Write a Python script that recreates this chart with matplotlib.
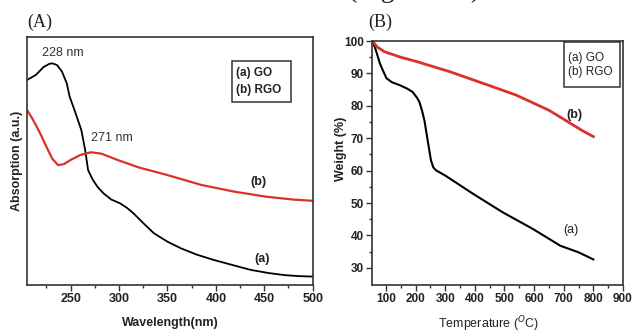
import numpy as np
import matplotlib.pyplot as plt
from matplotlib.patches import Rectangle

# (A) UV-vis absorption
wl_go = [205, 214, 222, 228, 231, 236, 241, 246, 249, 254, 261, 265, 268, 273,
         278, 284, 292, 301, 308, 315, 325, 336, 350, 364, 380, 398, 416, 436,
         455, 471, 485, 500]
abs_go = [0.828, 0.848, 0.880, 0.893, 0.895, 0.888, 0.862, 0.814, 0.760, 0.706,
          0.626, 0.545, 0.464, 0.424, 0.395, 0.370, 0.345, 0.330, 0.312, 0.289,
          0.250, 0.209, 0.175, 0.148, 0.123, 0.101, 0.082, 0.061, 0.048, 0.040,
          0.036, 0.034]
wl_rgo = [205, 210, 215, 220, 225, 231, 237, 243, 250, 260, 271, 282, 297, 320,
          350, 385, 419, 453, 480, 500]
abs_rgo = [0.706, 0.675, 0.639, 0.600, 0.558, 0.510, 0.484, 0.488, 0.505, 0.525,
           0.536, 0.530, 0.507, 0.475, 0.444, 0.404, 0.377, 0.356, 0.345, 0.340]

# (B) TGA
t_go = [55, 65, 80, 92, 102, 120, 146, 170, 190, 205, 213, 222, 230, 241, 252,
        260, 269, 300, 395, 495, 596, 689, 750, 800]
w_go = [99.8, 97.5, 93.0, 90.5, 88.5, 87.3, 86.4, 85.4, 84.3, 82.5, 81.2, 78.5,
        75.5, 69.3, 63.2, 61.0, 60.1, 58.5, 52.8, 47.1, 42.0, 36.8, 34.8, 32.6]
t_rgo = [55, 70, 95, 150, 206, 317, 429, 540, 651, 762, 800]
w_rgo = [100.0, 98.2, 96.7, 95.0, 93.6, 90.5, 86.9, 83.3, 78.6, 72.4, 70.5]

red = '#d8322b'
frame = '#333333'
sans = ['Liberation Sans', 'DejaVu Sans']
narrow = ['Liberation Sans Narrow', 'Liberation Sans', 'DejaVu Sans']
serif = ['Liberation Serif', 'DejaVu Serif']

fig = plt.figure(figsize=(6.36, 3.33), dpi=100)
fig.patch.set_facecolor('white')

# clipped line of body text at the very top
fig.text(487/636, 1.008, '(Figure 5A).', ha='right', va='baseline',
         fontsize=20, family=serif, color='#222222')

# ---- panel A ----
ax1 = fig.add_axes([0.0429, 0.1441, 0.4487, 0.7438])
ax1.plot(wl_go, abs_go, color='black', lw=1.3)
ax1.plot(wl_rgo, abs_rgo, color=red, lw=1.6)
ax1.set_xlim(205.2, 500)
ax1.set_ylim(0, 1)
ax1.set_xticks([250, 300, 350, 400, 450, 500])
ax1.set_xticks([225, 275, 325, 375, 425, 475], minor=True)
ax1.set_yticks([])
ax1.tick_params(axis='x', which='major', direction='out', length=4, width=1,
                color=frame, pad=2)
ax1.tick_params(axis='x', which='minor', direction='out', length=2.5, width=1,
                color=frame)
for lab in ax1.get_xticklabels():
    lab.set_family(sans)
    lab.set_fontweight('bold')
    lab.set_fontsize(9)
    lab.set_color('#222222')
ax1.set_xlabel('Wavelength(nm)', family=sans, fontweight='bold', fontsize=9,
               color='#222222')
ax1.xaxis.set_label_coords(0.5, -0.129)
ax1.set_ylabel('Absorption (a.u.)', family=sans, fontweight='bold', fontsize=9,
               color='#222222')
ax1.yaxis.set_label_coords(-0.016, 0.5)
for s in ax1.spines.values():
    s.set_color(frame)
    s.set_linewidth(1.2)

ax1.text(241.7, 0.937, '228 nm', ha='center', va='center', family=sans,
         fontsize=9, color='#333333')
ax1.text(292.2, 0.595, '271 nm', ha='center', va='center', family=sans,
         fontsize=9, color='#333333')
ax1.text(443.8, 0.416, '(b)', ha='center', va='center', family=sans,
         fontweight='bold', fontsize=9, color='#222222')
ax1.text(447.7, 0.107, '(a)', ha='center', va='center', family=sans,
         fontweight='bold', fontsize=9, color='#222222')
ax1.add_patch(Rectangle((0.717, 0.739), 0.207, 0.165, transform=ax1.transAxes,
                        fill=False, ec=frame, lw=1.1))
ax1.text(0.732, 0.856, '(a) GO', transform=ax1.transAxes, ha='left',
         va='center', family=sans, fontweight='bold', fontsize=8.5,
         color='#222222')
ax1.text(0.732, 0.787, '(b) RGO', transform=ax1.transAxes, ha='left',
         va='center', family=sans, fontweight='bold', fontsize=8.5,
         color='#222222')

# ---- panel B ----
ax2 = fig.add_axes([0.5844, 0.1441, 0.3951, 0.7327])
ax2.plot(t_go, w_go, color='black', lw=1.5)
ax2.plot(t_rgo, w_rgo, color=red, lw=2.0)
ax2.set_xlim(52, 900)
ax2.set_ylim(24.7, 100)
ax2.set_xticks(np.arange(100, 901, 100))
ax2.set_xticks(np.arange(150, 900, 100), minor=True)
ax2.set_yticks(np.arange(30, 101, 10))
ax2.set_yticks(np.arange(35, 100, 10), minor=True)
ax2.tick_params(which='major', direction='out', length=4, width=1,
                color=frame, pad=1.5)
ax2.tick_params(which='minor', direction='out', length=2.5, width=1,
                color=frame)
for lab in ax2.get_xticklabels() + ax2.get_yticklabels():
    lab.set_family(narrow)
    lab.set_fontweight('bold')
    lab.set_fontsize(8.5)
    lab.set_color('#222222')
ax2.set_xlabel('Temperature ($^{O}$C)', family=narrow, fontsize=9,
               color='#222222')
ax2.xaxis.set_label_coords(0.463, -0.122)
ax2.set_ylabel('Weight (%)', family=sans, fontweight='bold', fontsize=9,
               color='#222222')
ax2.yaxis.set_label_coords(-0.097, 0.559)
for s in ax2.spines.values():
    s.set_color(frame)
    s.set_linewidth(1.2)

ax2.text(735, 77.1, '(b)', ha='center', va='center', family=narrow,
         fontweight='bold', fontsize=9, color='#222222')
ax2.text(725, 41.6, '(a)', ha='center', va='center', family=narrow,
         fontsize=9, color='#222222')
ax2.add_patch(Rectangle((0.765, 0.810), 0.223, 0.185, transform=ax2.transAxes,
                        fill=False, ec=frame, lw=1.1))
ax2.text(0.781, 0.93, '(a) GO', transform=ax2.transAxes, ha='left',
         va='center', family=narrow, fontsize=8.5, color='#222222')
ax2.text(0.781, 0.872, '(b) RGO', transform=ax2.transAxes, ha='left',
         va='center', family=narrow, fontsize=8.5, color='#222222')

# panel letters
fig.text(40/636, 1 - 22.5/333, '(A)', ha='center', va='center', family=serif,
         fontsize=13, color='#222222')
fig.text(380.5/636, 1 - 22.5/333, '(B)', ha='center', va='center',
         family=serif, fontsize=13, color='#222222')

fig.savefig('out.png', dpi=100, facecolor='white')
